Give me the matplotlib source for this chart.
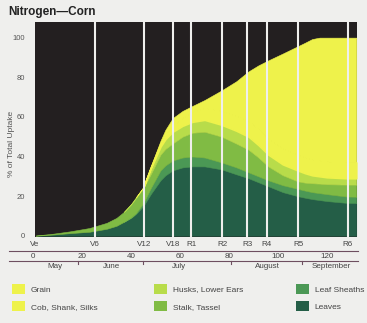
import matplotlib
matplotlib.use('Agg')
import matplotlib.pyplot as plt
import numpy as np
from matplotlib.patches import Patch
from matplotlib.lines import Line2D
from matplotlib.transforms import blended_transform_factory

plt.rcParams['font.family'] = ['Liberation Sans', 'DejaVu Sans']

# days after emergence
days = [1, 8, 15, 23, 30, 34, 37, 40, 42, 45, 48, 52, 54, 57, 61, 65, 70, 77, 83, 88, 92, 96, 102, 108, 111, 114, 117, 120, 128, 132]

# N uptake per plant part [% of total]
leaves = [0, 0.6, 1.3, 2.0, 3.5, 5, 7, 9, 11, 15, 21, 28, 30.5, 33, 34.5, 35, 35, 33.5, 31, 29, 27, 25, 22, 20, 19.2, 18.5, 18, 17.5, 16.6, 16.5]
sheaths = [0, 0, 0, 0, 0, 0, 0, 0.3, 0.5, 1.5, 3, 5, 5, 5, 5, 5, 4.5, 3.5, 3.5, 3, 3, 3, 3.5, 3.7, 3.6, 3.5, 3.5, 3.5, 3.2, 3.2]
stalk = [0.1, 0.4, 0.9, 1.9, 3.0, 4, 5, 6.5, 7.5, 7.5, 7, 8, 8.3, 8.6, 10.5, 12, 13, 13, 12, 11.4, 9.5, 7, 5, 3.8, 4, 4.5, 4.8, 5, 6, 6.1]
husks = [0, 0, 0, 0, 0, 0, 0, 0.3, 0.5, 0.5, 3, 4, 5, 5.9, 5.5, 5.5, 6, 6, 6.5, 6.6, 6.3, 6, 5.5, 5.5, 4.8, 4, 3.7, 3.5, 3.2, 3.2]
cob = [0, 0, 0, 0, 0, 0, 0, 0, 0, 0, 0.5, 1.5, 2.2, 3, 4, 5, 6, 7, 7.5, 8, 8, 8, 8, 8, 8, 8, 8, 8, 8, 8]
grain = [0, 0, 0, 0, 0, 0, 0, 0, 0, 0.1, 0.5, 1.5, 2.5, 3.9, 3.5, 3, 4, 10.4, 17.5, 25, 32.2, 39.5, 48, 54.6, 57.8, 60.8, 62, 62.5, 63, 63]

labels = ['Grain', 'Cob, Shank, Silks', 'Husks, Lower Ears', 'Stalk, Tassel', 'Leaf Sheaths', 'Leaves']
colors = ['#eef24b', '#eef24b', '#b8dc4a', '#80bb44', '#4b9855', '#245e47']

stages = ['Ve', 'V6', 'V12', 'V18', 'R1', 'R2', 'R3', 'R4', 'R5', 'R6']
stage_days = [0.5, 25.2, 45.3, 57.0, 64.6, 77.3, 87.5, 95.5, 108.2, 128.6]
day_ticks = [0, 20, 40, 60, 80, 100, 120]
months = ['May', 'June', 'July', 'August', 'September']
month_mid = [9, 32, 59.6, 95.5, 121.6]
month_bounds = [18.3, 44.8, 80.8, 109.8]

bg = '#efefed'
fig = plt.figure(figsize=(3.67, 3.23), dpi=100, facecolor=bg)
ax = fig.add_axes([35/367, 1-237/323, 322/367, 215/323])
ax.set_facecolor('#231f20')

# stacked areas, bottom layer first; edge stroke hides antialias seams
layers = [leaves, sheaths, stalk, husks, cob, grain]
base = np.zeros(len(days))
for vals, c in zip(layers, colors[::-1]):
    v = np.array(vals, dtype=float)
    on = v > 0
    mask = on | np.r_[on[1:], False] | np.r_[False, on[:-1]]
    lw = 1.2 if vals is cob else 0.4
    ax.fill_between(days, base, base + v, where=mask, facecolor=c, edgecolor=c, lw=lw)
    base = base + v

for d in stage_days[1:]:
    ax.axvline(d, color=bg, lw=1.5, zorder=5)

ax.set_xlim(0.7, 132.3)
ax.set_ylim(-0.65, 107.9)
ax.set_xticks([])
ax.set_yticks([0, 20, 40, 60, 80, 100])
ax.tick_params(axis='y', length=0, pad=7, labelsize=5.5, labelcolor='#555555')
for s in ax.spines.values():
    s.set_visible(False)

fig.text(12/367, 1-144/323, '% of Total Uptake', rotation=90, ha='center', va='center',
         fontsize=6, color='#555555')
fig.text(8/367, 1-12/323, 'Nitrogen\u2014Corn', fontsize=8.5, fontweight='bold',
         ha='left', va='center', color='#222222')

# axis below: stages, days, months
tr = blended_transform_factory(ax.transData, fig.transFigure)
for s, d in zip(stages, stage_days):
    ax.text(d, 1-245/323, s, transform=tr, ha='center', va='center', fontsize=5.8, color='#444444')
for d in day_ticks:
    ax.text(d, 1-256/323, str(d), transform=tr, ha='center', va='center', fontsize=5.8, color='#444444')
for m, d in zip(months, month_mid):
    ax.text(d, 1-267/323, m, transform=tr, ha='center', va='center', fontsize=5.8, color='#444444')
for yy in (251, 261):
    fig.add_artist(Line2D([9/367, 358/367], [1-yy/323]*2, transform=fig.transFigure,
                          color='#6e4f60', lw=0.8))
for d in month_bounds:
    ax.add_line(Line2D([d, d], [1-261/323, 1-263.5/323], transform=tr, color='#6e4f60',
                       lw=0.8, clip_on=False))

# legend, three columns
col_x = [5, 147, 289]
for i, x in enumerate(col_x):
    handles = [Patch(facecolor=colors[j], edgecolor='none') for j in (2*i, 2*i+1)]
    fig.legend(handles, labels[2*i:2*i+2], loc='upper left',
               bbox_to_anchor=(x/367, 1-277/323), frameon=False, fontsize=6,
               handlelength=1.6, handleheight=1.5, handletextpad=0.7,
               labelspacing=0.85, labelcolor='#444444', borderpad=0.3)

fig.savefig('out.png', dpi=100, facecolor=bg)
